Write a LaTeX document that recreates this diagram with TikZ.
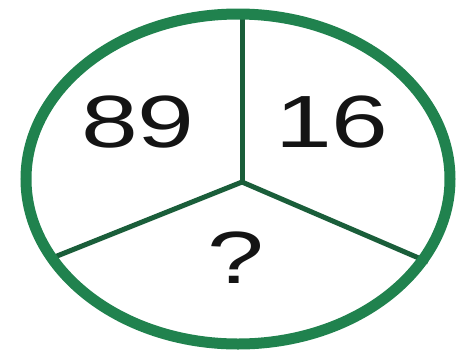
\documentclass[tikz,border=0pt]{standalone}
\usepackage{fontspec}
\setmainfont{Liberation Sans}
\usepackage{tikz}
\definecolor{ringgreen}{RGB}{32,130,78}
\definecolor{spokegreen}{RGB}{26,94,58}

\begin{document}
\begin{tikzpicture}[x=1pt,y=-1pt,
  every node/.style={font=\fontsize{74}{80}\selectfont,text=black!92,xscale=1.38},
  ring/.style={draw=ringgreen,line width=11pt},
  spoke/.style={draw=spokegreen,line width=5pt}]
\useasboundingbox (0,0) rectangle (458,360);
  \coordinate (hub) at (242,182);
  \coordinate (top) at (242,14);
  \coordinate (lowleft) at (52,258);
  \coordinate (lowright) at (428,262);
  \foreach \E in {top,lowleft,lowright}
    \draw[spoke] (hub)--(\E);
  \draw[ring] (238,179) ellipse (212 and 165);
  \node (left) at (138,122) {89};
  \node (right) at (332,122) {16};
  \node (bottom) at (236,258) {?};
\end{tikzpicture}
\end{document}
